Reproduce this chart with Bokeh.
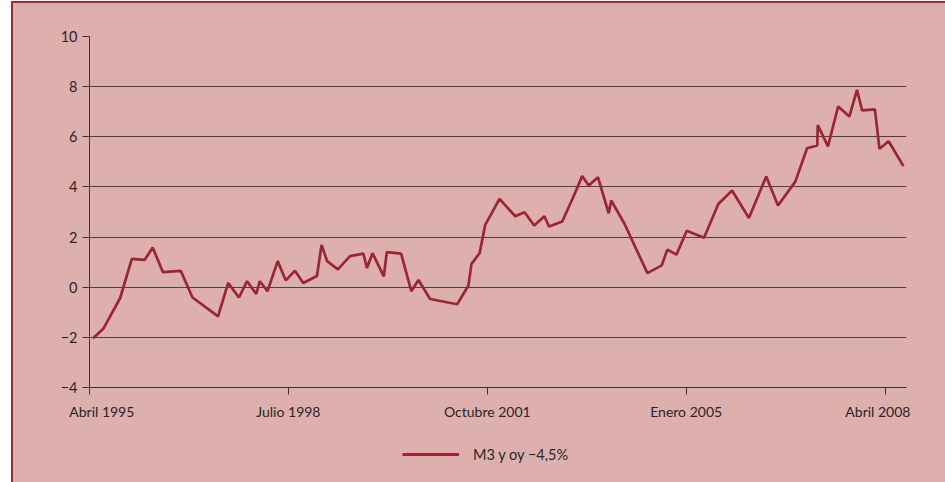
from bokeh.plotting import figure
from bokeh.layouts import column
from bokeh.models import FixedTicker, Legend, LegendItem, Range1d
from bokeh.embed import file_html
from bokeh.resources import INLINE

# months since April 1995 and M3 y-o-y minus 4.5%
months = [0.7, 2.7, 6.0, 8.3, 10.8, 12.4, 14.4, 17.9, 20.2, 25.2, 27.2, 29.3, 30.9,
          32.7, 33.4, 34.9, 36.9, 38.5, 40.3, 41.9, 44.6, 45.5, 46.6, 48.7, 51.1,
          53.7, 54.4, 55.5, 57.7, 58.3, 61.1, 63.1, 64.5, 66.8, 72.1, 74.3, 74.9,
          76.5, 77.6, 80.4, 83.5, 85.3, 87.2, 89.2, 90.1, 92.7, 95.0, 96.6, 97.9,
          99.7, 101.8, 102.3, 104.9, 109.4, 112.2, 113.3, 115.1, 117.1, 120.5,
          123.3, 126.0, 129.3, 132.7, 135.0, 138.4, 140.7, 142.7, 142.8, 144.8,
          146.8, 149.0, 150.5, 151.5, 154.0, 154.9, 156.7, 159.6]
values = [-2.04, -1.66, -0.44, 1.13, 1.09, 1.58, 0.60, 0.65, -0.41, -1.16, 0.17, -0.41, 0.24,
          -0.27, 0.24, -0.16, 1.04, 0.27, 0.66, 0.17, 0.45, 1.69, 1.04, 0.71, 1.24,
          1.34, 0.77, 1.36, 0.43, 1.40, 1.34, -0.16, 0.29, -0.47, -0.68, 0.07, 0.93,
          1.36, 2.49, 3.52, 2.83, 2.99, 2.46, 2.83, 2.42, 2.62, 3.66, 4.43, 4.06,
          4.39, 2.95, 3.46, 2.53, 0.56, 0.87, 1.50, 1.30, 2.25, 1.97,
          3.32, 3.86, 2.76, 4.42, 3.26, 4.21, 5.54, 5.65, 6.47, 5.62,
          7.21, 6.81, 7.87, 7.05, 7.09, 5.52, 5.82, 4.83]

x_ticks = [0, 39, 78, 117, 156]
x_labels = ["Abril 1995", "Julio 1998", "Octubre 2001", "Enero 2005", "Abril 2008"]
y_ticks = [-4, -2, 0, 2, 4, 6, 8, 10]
y_labels = ["\u22124", "\u22122", "0", "2", "4", "6", "8", "10"]
series_name = "M3 y oy \u22124,5%"

BG = "#DDB0AD"
RED = "#9C2438"
FONT = "Lato"
TXT = "#2a2626"
W = 932

# end labels are nudged inwards, as in the original
NB = "\u00a0"
x_label_text = list(x_labels)
x_label_text[0] = NB * 7 + x_labels[0]
x_label_text[-1] = x_labels[-1] + NB * 4

# ---- main chart ----
p = figure(width=W, height=424, output_backend="svg", toolbar_location=None,
           x_range=Range1d(0, 160.2), y_range=Range1d(-4, 10),
           min_border_left=76, min_border_right=39, min_border_top=33, min_border_bottom=40)
p.background_fill_color = BG
p.border_fill_color = BG
p.outline_line_color = None

p.line(months, values, line_color=RED, line_width=2.7)

for ax in (p.xaxis[0], p.yaxis[0]):
    ax.axis_line_color = "#3a3333"
    ax.axis_line_width = 1
    ax.major_tick_line_color = "#3a3333"
    ax.major_tick_out = 7
    ax.major_tick_in = 0
    ax.minor_tick_line_color = None
    ax.major_label_text_font = FONT
    ax.major_label_text_font_size = "14px"
    ax.major_label_text_color = TXT

p.xaxis.ticker = FixedTicker(ticks=x_ticks)
p.xaxis.major_label_overrides = {t: l for t, l in zip(x_ticks, x_label_text)}
p.xaxis.major_label_standoff = 8
p.yaxis.ticker = FixedTicker(ticks=y_ticks)
p.yaxis.major_label_overrides = {t: l for t, l in zip(y_ticks, y_labels)}
p.yaxis.major_label_standoff = 5
p.yaxis.major_label_text_font_size = "14.5px"

p.xgrid.grid_line_color = None
p.ygrid.grid_line_color = "#4a4242"
p.ygrid.grid_line_width = 1

# ---- legend strip (same series, drawn off-range so only its legend shows) ----
pl = figure(width=W, height=55, output_backend="svg", toolbar_location=None,
            x_axis_location=None, y_axis_location=None,
            x_range=Range1d(0, 160.2), y_range=Range1d(100, 101), min_border=0)
pl.background_fill_color = None
pl.border_fill_color = BG
pl.outline_line_color = None
pl.grid.visible = False
rl = pl.line(months, values, line_color=RED, line_width=3)

legend = Legend(items=[LegendItem(label=series_name, renderers=[rl])],
                location=(313, 18), orientation="horizontal",
                background_fill_alpha=0, border_line_color=None,
                glyph_width=57, glyph_height=20, label_standoff=14,
                padding=0, margin=0, spacing=0,
                label_text_font=FONT, label_text_font_size="14.5px",
                label_text_color=TXT)
pl.add_layout(legend, "center")

layout = column(p, pl, spacing=0)
layout.styles = {"margin-left": "11px", "margin-top": "1px", "background-color": BG,
                 "border-left": "2px solid #A02838", "border-top": "2px solid #A02838"}

open("out.html", "w").write(file_html(layout, INLINE))
